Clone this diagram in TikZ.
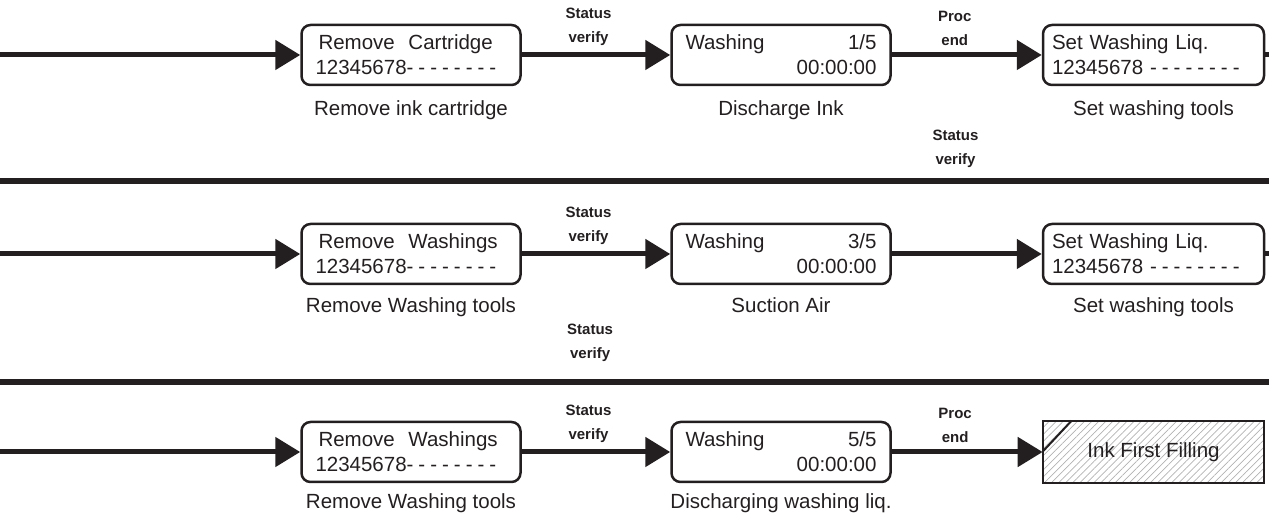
\documentclass[tikz,border=0pt]{standalone}
\usepackage{fontspec}
\setmainfont{Liberation Sans}
\usetikzlibrary{arrows.meta,positioning,patterns.meta}
\definecolor{ink}{HTML}{231F20}
\newcommand{\blanks}{-\kern5pt-\kern5pt-\kern5pt-\kern5pt-\kern5pt-\kern5pt-\kern5pt-}

\begin{document}
\begin{tikzpicture}[x=1pt,y=1pt,
  screen/.style={draw=ink, line width=2.5pt, rounded corners=9pt, minimum width=219pt,
    minimum height=60pt, text width=191pt, inner xsep=14pt, align=left,
    font=\fontsize{20.5}{25}\selectfont, text=ink},
  caption/.style={font=\fontsize{20.5}{23}\selectfont, text=ink, inner sep=0pt},
  cond/.style={font=\bfseries\fontsize{15}{24}\selectfont, text=ink, align=center, inner sep=0pt},
  flow/.style={draw=ink, line width=5pt, -{Triangle[length=25pt,width=29pt]}},
  plain/.style={draw=ink, line width=5pt},
  divider/.style={draw=ink, line width=6pt}]
\useasboundingbox (0,0) rectangle (1269,516);

  % Row 1
  \node[screen] (cart) at (411,461) {\hspace*{3pt}Remove\ \ Cartridge\\12345678\blanks};
  \node[screen] (wash1) at (781,461) {Washing\hfill 1/5\\\hspace*{\fill}00:00:00};
  \node[screen, inner xsep=9pt, text width=203pt] (liq1) at (1153.5,461) {Set Washing Liq.\\12345678 \blanks};
  \node[caption, below=14pt of cart] (capcart) {Remove ink cartridge};
  \node[caption, below=14pt of wash1] (capwash1) {Discharge Ink};
  \node[caption, below=14pt of liq1] (capliq1) {Set washing tools};
  \coordinate (in1) at (0,461);
  \coordinate (out1) at (1269,461);

  \draw[flow] (in1) -- (cart.west);
  \draw[flow] (cart.east) -- node[cond, pos=.45, above=7pt] {Status\\verify} (wash1.west);
  \draw[flow] (wash1.east) -- node[cond, pos=.42, above=7pt] {Proc\\end} (liq1.west);
  \draw[plain] (liq1.east) -- (out1);

  % Separator 1
  \coordinate (sepa) at (0,335);
  \coordinate (sepb) at (1269,335);
  \draw[divider] (sepa) -- node[cond, pos=.753, above=10pt] {Status\\verify} (sepb);

  % Row 2
  \node[screen] (tools) at (411,262) {\hspace*{3pt}Remove\ \ Washings\\12345678\blanks};
  \node[screen] (wash3) at (781,262) {Washing\hfill 3/5\\\hspace*{\fill}00:00:00};
  \node[screen, inner xsep=9pt, text width=203pt] (liq2) at (1153.5,262) {Set Washing Liq.\\12345678 \blanks};
  \node[caption, below=12pt of tools] (captools) {Remove Washing tools};
  \node[caption, below=12pt of wash3] (capwash3) {Suction Air};
  \node[caption, below=12pt of liq2] (capliq2) {Set washing tools};
  \coordinate (in2) at (0,262);
  \coordinate (out2) at (1269,262);

  \draw[flow] (in2) -- (tools.west);
  \draw[flow] (tools.east) -- node[cond, pos=.45, above=7pt] {Status\\verify} (wash3.west);
  \draw[flow] (wash3.east) -- (liq2.west);
  \draw[plain] (liq2.east) -- (out2);

  % Separator 2
  \coordinate (sepc) at (0,134);
  \coordinate (sepd) at (1269,134);
  \draw[divider] (sepc) -- node[cond, pos=.465, above=17pt] {Status\\verify} (sepd);

  % Row 3
  \node[screen] (tools2) at (411,64) {\hspace*{3pt}Remove\ \ Washings\\12345678\blanks};
  \node[screen] (wash5) at (781,64) {Washing\hfill 5/5\\\hspace*{\fill}00:00:00};
  \node[draw=ink, line width=2.5pt, minimum width=221pt, minimum height=62pt,
    pattern={Lines[angle=45,distance=5pt,line width=.7pt]}, pattern color=gray!60,
    font=\fontsize{20.5}{23}\selectfont, text=ink] (firstfill) at (1153.5,64) {Ink First Filling};
  \node[caption, below=10pt of tools2] (captools2) {Remove Washing tools};
  \node[caption, below=10pt of wash5] (capwash5) {Discharging washing liq.};
  \coordinate (in3) at (0,64);

  \draw[flow] (in3) -- (tools2.west);
  \draw[flow] (tools2.east) -- node[cond, pos=.45, above=7pt] {Status\\verify} (wash5.west);
  \draw[flow] (wash5.east) -- node[cond, pos=.42, above=7pt] {Proc\\end} (firstfill.west);
  \draw[ink, line width=2pt] ([yshift=-31pt]firstfill.north west) -- ([xshift=29pt]firstfill.north west);
\end{tikzpicture}
\end{document}
